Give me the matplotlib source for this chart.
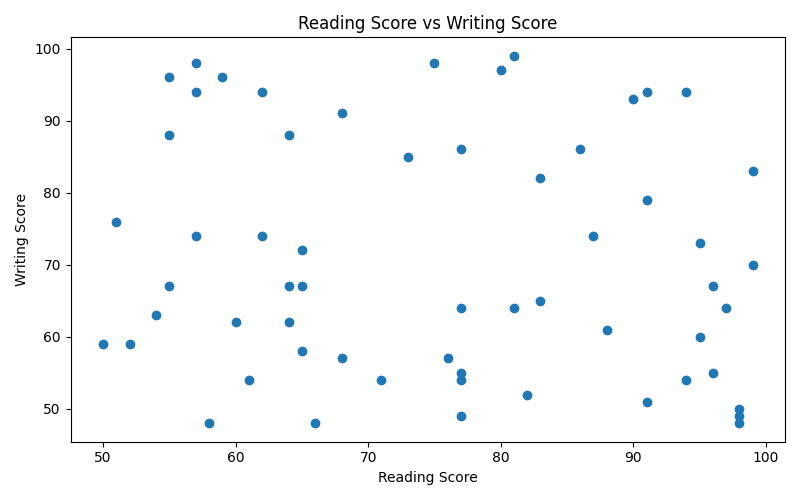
import matplotlib.pyplot as plt

# Reading / writing scores
reading_score = [57, 55, 59, 57, 62, 75, 81, 80, 90, 91, 94, 68, 55, 64, 73, 77, 86, 83, 99, 91,
                 51, 57, 62, 65, 87, 95, 99, 55, 64, 65, 96, 83, 77, 81, 97, 54, 60, 64, 88, 95,
                 50, 52, 65, 68, 76, 77, 96, 61, 71, 77, 94, 82, 91, 98, 98, 77, 98, 58, 66]
writing_score = [98, 96, 96, 94, 94, 98, 99, 97, 93, 94, 94, 91, 88, 88, 85, 86, 86, 82, 83, 79,
                 76, 74, 74, 72, 74, 73, 70, 67, 67, 67, 67, 65, 64, 64, 64, 63, 62, 62, 61, 60,
                 59, 59, 58, 57, 57, 55, 55, 54, 54, 54, 54, 52, 51, 50, 49, 49, 48, 48, 48]


def main():
    plt.figure(figsize=(8, 5), dpi=100)
    plt.scatter(reading_score, writing_score, color="#1f77b4")
    plt.title("Reading Score vs Writing Score")
    plt.xlabel("Reading Score")
    plt.ylabel("Writing Score")
    plt.tight_layout()
    plt.savefig("out.png")


if __name__ == "__main__":
    main()
